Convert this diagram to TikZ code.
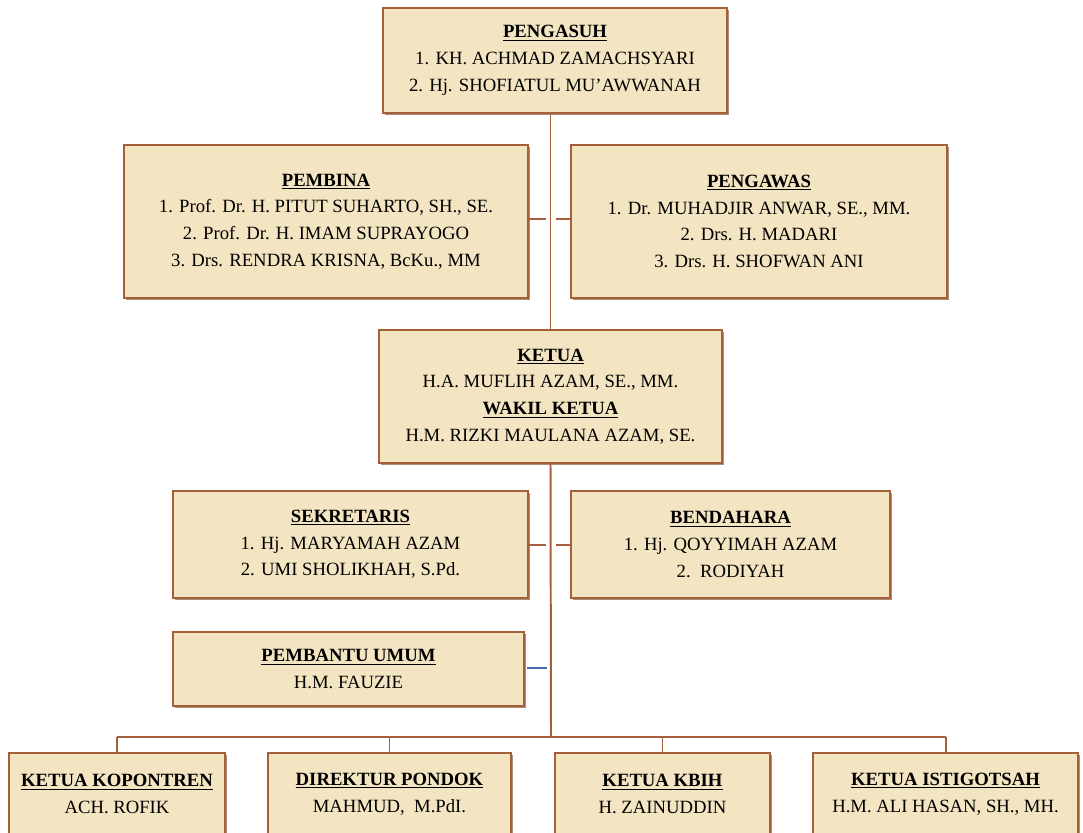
\documentclass[tikz,border=0pt]{standalone}
\usepackage{fontspec}
\setmainfont{Liberation Serif}
\usepackage{tikz}
\usetikzlibrary{shadows}

\definecolor{parchment}{RGB}{243,228,194}
\definecolor{boxedge}{RGB}{165,96,58}
\definecolor{linkblue}{RGB}{70,110,170}

\tikzset{
    orgbox/.style 2 args={draw=boxedge, line width=1.5pt, fill=parchment,
        minimum width=#1*0.025cm, minimum height=#2*0.025cm, inner sep=0pt,
        align=center, font=\fontsize{13.3}{19}\selectfont,
        drop shadow={shadow xshift=1.2pt, shadow yshift=-1.2pt, fill=boxedge!70!black, opacity=0.6}},
    link/.style={draw=boxedge, line width=1.4pt}}

\newcommand{\hd}[1]{\underline{\textbf{#1}}}

\begin{document}
\begin{tikzpicture}[x=0.025cm, y=-0.025cm]

            \clip (0,0) rectangle (1083,833);
            \fill[white] (0,0) rectangle (1083,833);

            \node[orgbox={344}{105}] (pengasuh) at (555,60.5) {\hd{PENGASUH}\\1. KH. ACHMAD ZAMACHSYARI\\2. Hj. SHOFIATUL MU’AWWANAH};
            \node[orgbox={404}{153}] (pembina) at (326,221.5) {\hd{PEMBINA}\\1. Prof. Dr. H. PITUT SUHARTO, SH., SE.\\2. Prof. Dr. H. IMAM SUPRAYOGO\\3. Drs. RENDRA KRISNA, BcKu., MM};
            \node[orgbox={376}{153}] (pengawas) at (759,221.5) {\hd{PENGAWAS}\\1. Dr. MUHADJIR ANWAR, SE., MM.\\2. Drs. H. MADARI\\3. Drs. H. SHOFWAN ANI};
            \node[orgbox={343}{133}] (ketua) at (550.5,396.5) {\hd{KETUA}\\H.A. MUFLIH AZAM, SE., MM.\\\hd{WAKIL KETUA}\\H.M. RIZKI MAULANA AZAM, SE.};
            \node[orgbox={355}{107}] (sekretaris) at (350.5,544.5) {\hd{SEKRETARIS}\\1. Hj. MARYAMAH AZAM\\2. UMI SHOLIKHAH, S.Pd.};
            \node[orgbox={319}{107}] (bendahara) at (730.5,544.5) {\hd{BENDAHARA}\\1. Hj. QOYYIMAH AZAM\\2.\ \ RODIYAH};
            \node[orgbox={351}{74}] (pembantu) at (348.5,669) {\hd{PEMBANTU UMUM}\\H.M. FAUZIE};

            \node[orgbox={216}{82}] (kopontren) at (117,794) {\hd{KETUA KOPONTREN}\\ACH. ROFIK};
            \node[orgbox={243}{82}] (direktur) at (389.5,794) {\hd{DIREKTUR PONDOK}\\MAHMUD,\ \ M.PdI.};
            \node[orgbox={215}{82}] (kbih) at (662.5,794) {\hd{KETUA KBIH}\\H. ZAINUDDIN};
            \node[orgbox={265}{82}] (istigotsah) at (945.5,794) {\hd{KETUA ISTIGOTSAH}\\H.M. ALI HASAN, SH., MH.};

            % trunk and stubs
            \coordinate (bus) at (551,737);
            \coordinate (pembinaend) at (546,219);
            \coordinate (pengawasend) at (556,219);
            \coordinate (sekretarisend) at (546,545);
            \coordinate (bendaharaend) at (556,545);
            \coordinate (pembantuend) at (547,668);

            \draw[link] (ketua.north |- pengasuh.south) -- (ketua.north);
            \draw[link] (ketua.south) -- (bus);
            \draw[link] (pembina.east |- pembinaend) -- (pembinaend);
            \draw[link] (pengawas.west |- pengawasend) -- (pengawasend);
            \draw[link] (sekretaris.east |- sekretarisend) -- (sekretarisend);
            \draw[link] (bendahara.west |- bendaharaend) -- (bendaharaend);
            \draw[link, draw=linkblue] (527,668) -- (pembantuend);

            \draw[link] (kopontren.north |- bus) -- (istigotsah.north |- bus);
            \foreach \n in {kopontren,direktur,kbih,istigotsah}
                \draw[link] (\n.north |- bus) -- (\n.north);

        \end{tikzpicture}
\end{document}
